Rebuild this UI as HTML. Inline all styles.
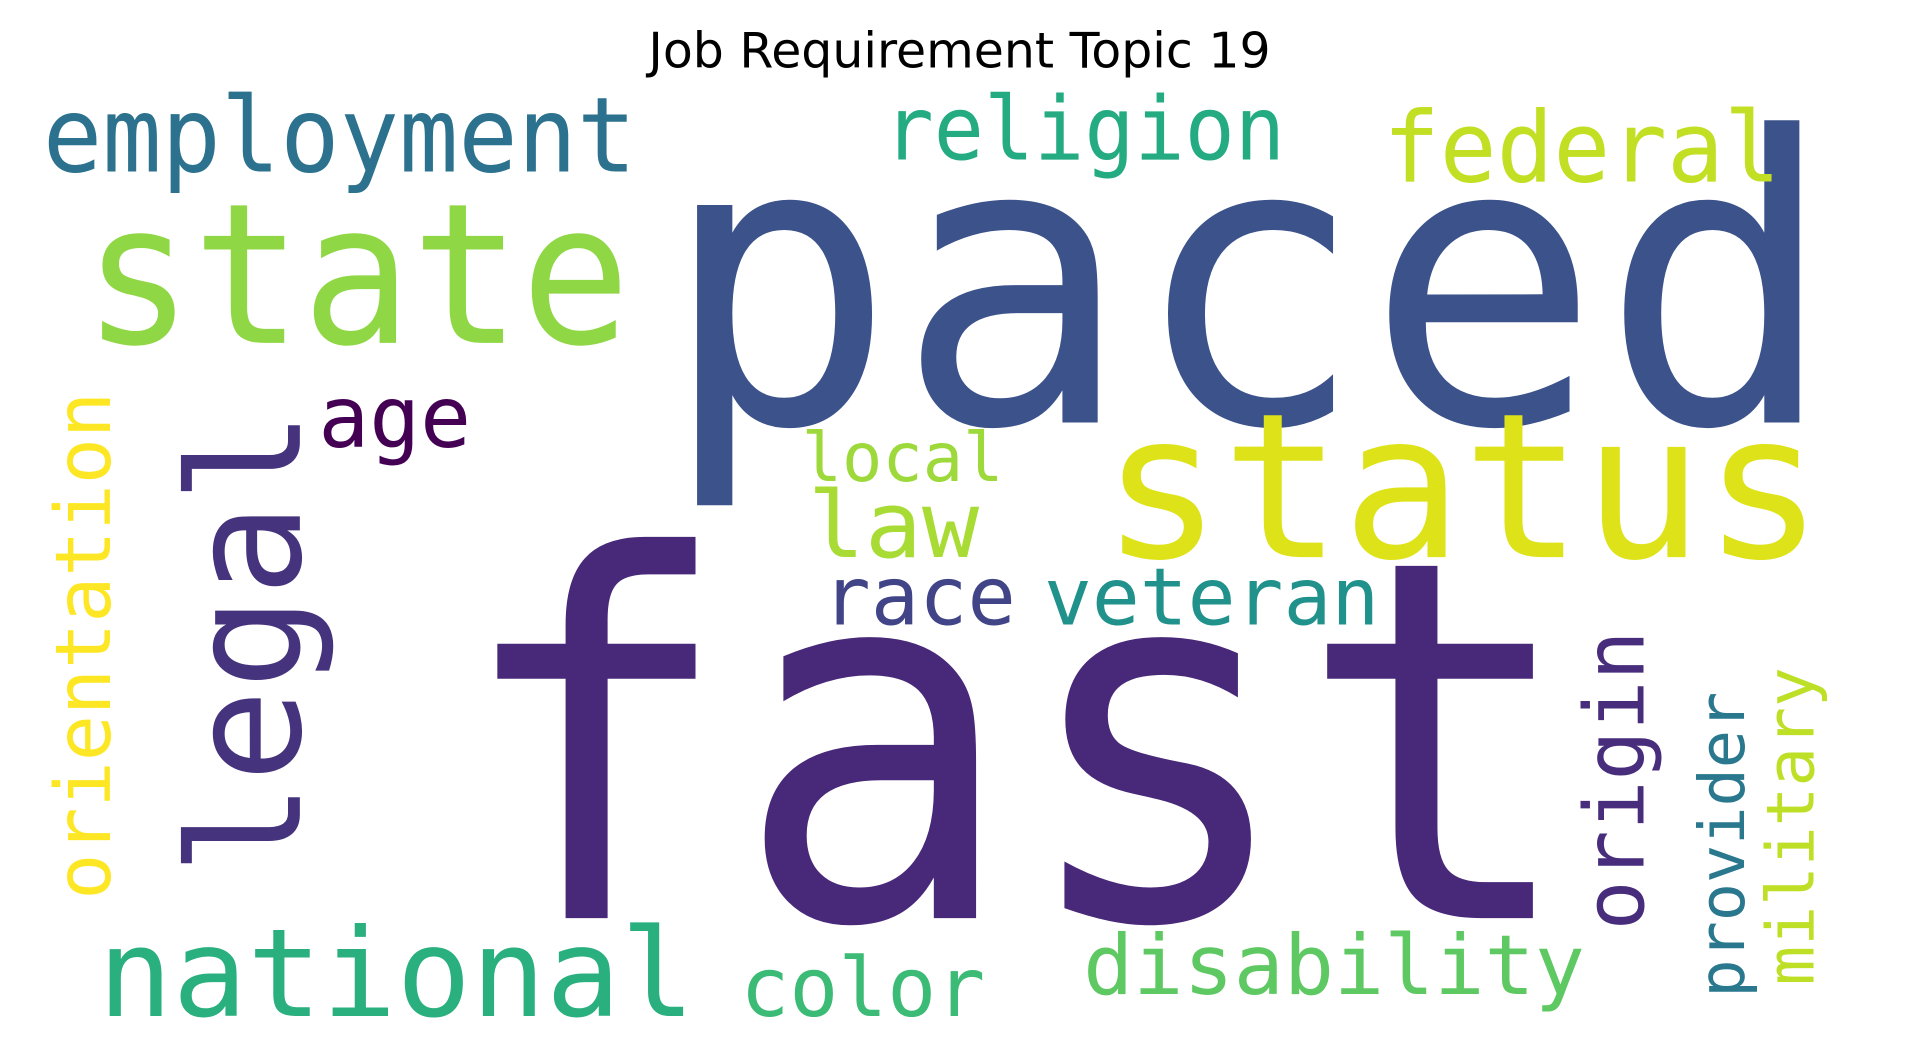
<!DOCTYPE html>
<html><head><meta charset="utf-8"><style>
html,body{margin:0;padding:0;background:#fff;width:1919px;height:1053px;overflow:hidden}
svg{display:block}
</style></head><body>
<svg id="cloud" width="1919" height="1053" viewBox="0 0 1568 860" xmlns="http://www.w3.org/2000/svg">
<text x="784" y="55" text-anchor="middle" font-family="DejaVu Sans, Liberation Sans, sans-serif" font-size="40" fill="#000">Job Requirement Topic 19</text>
<g id="words"></g>
</svg>
<script>
const words = ["paced","fast","state","status","employment","religion","federal","age","local","law","race","veteran","national","color","disability","legal","orientation","origin","provider","military"];
const sizes = [325,410,160,165,85,72,80,70,55,75,66,65,100,67,68,127,63,68,52,54];
const colors = ["#3b528b","#482878","#8fd744","#dde318","#2c728e","#25ab82","#c2df23","#440154","#9dd93b","#a8db34","#414487","#21918c","#2ab07f","#3bbb75","#5ec962","#46337e","#fde725","#472d7b","#2a788e","#bddf26"];
const vertical = [0,0,0,0,0,0,0,0,0,0,0,0,0,0,0,1,1,1,1,1];
const anchorX = [540,370,68,900,35,722,1130,260,655,660,672,853,80,605,885,245,90,1343,1425,1482];
const anchorY = [345,750,280,455,140,130,148,365,393,455,510,510,830,830,812,715,735,760,815,805];
const spans = [960,920,447,590,485,328,325,125,165,140,158,274,488,200,410,380,415,245,250,260];
const g = document.getElementById('words');
const NS = "http://www.w3.org/2000/svg";
for (let i = 0; i < words.length; i++) {
  const t = document.createElementNS(NS, 'text');
  
  
  t.setAttribute('font-family', 'DejaVu Sans Mono, Liberation Mono, monospace');
  t.setAttribute('font-size', sizes[i]);
  t.setAttribute('fill', colors[i]);
  t.setAttribute('textLength', spans[i]);
  t.setAttribute('lengthAdjust', 'spacingAndGlyphs');
  t.setAttribute('x', 0);
  t.setAttribute('y', 0);
  let tr = 'translate(' + anchorX[i] + ',' + anchorY[i] + ')';
  if (vertical[i]) tr += ' rotate(-90)';
  t.setAttribute('transform', tr);
  t.textContent = words[i];
  g.appendChild(t);
}
</script>
</body></html>
